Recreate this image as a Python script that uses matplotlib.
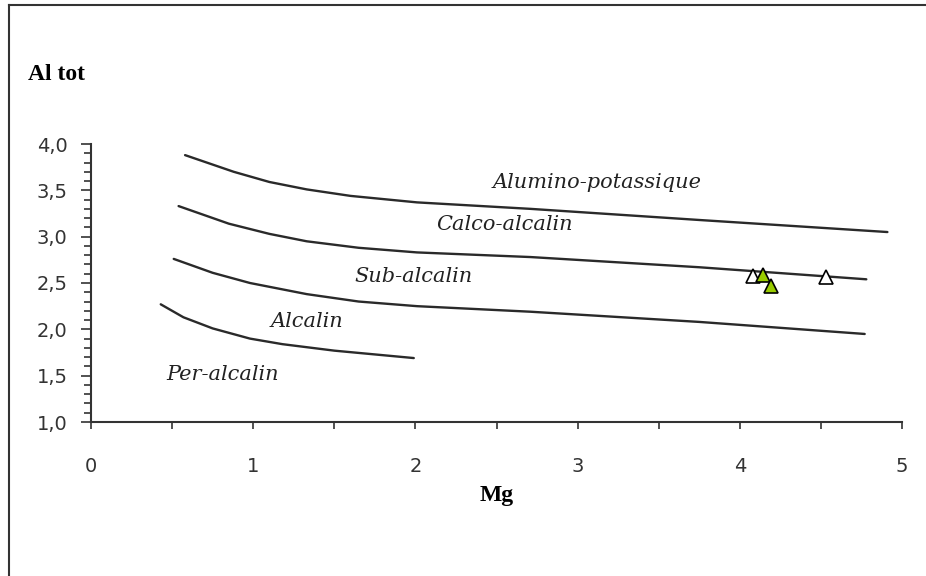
import matplotlib
matplotlib.use("Agg")
import matplotlib.pyplot as plt
from matplotlib.ticker import MultipleLocator, FuncFormatter
from matplotlib.lines import Line2D

# Boundary curves of the classification fields (Mg vs Al tot)
alumino_x = [0.58, 0.88, 1.10, 1.33, 1.60, 2.01, 2.71, 3.75, 4.91]
alumino_y = [3.88, 3.70, 3.59, 3.51, 3.44, 3.37, 3.30, 3.18, 3.05]

calco_x = [0.54, 0.85, 1.10, 1.33, 1.65, 2.01, 2.71, 3.75, 4.78]
calco_y = [3.33, 3.14, 3.03, 2.95, 2.88, 2.83, 2.78, 2.67, 2.54]

subalc_x = [0.51, 0.75, 0.98, 1.33, 1.65, 2.01, 2.71, 3.75, 4.77]
subalc_y = [2.76, 2.61, 2.50, 2.38, 2.30, 2.25, 2.19, 2.08, 1.95]

alcalin_x = [0.43, 0.57, 0.75, 0.98, 1.18, 1.50, 1.99]
alcalin_y = [2.27, 2.13, 2.01, 1.90, 1.84, 1.77, 1.69]

# Samples
open_x = [4.08, 4.53]
open_y = [2.575, 2.57]
filled_x = [4.14, 4.19]
filled_y = [2.59, 2.47]

# Field names and their positions
field_names = ["Alumino-potassique", "Calco-alcalin", "Sub-alcalin", "Alcalin", "Per-alcalin"]
field_x = [3.12, 2.55, 1.99, 1.33, 0.81]
field_y = [3.58, 3.13, 2.57, 2.08, 1.51]

x_ticks = [0, 1, 2, 3, 4, 5]
y_ticks = [1.0, 1.5, 2.0, 2.5, 3.0, 3.5, 4.0]

fig = plt.figure(figsize=(9.26, 5.76), dpi=100)
ax = fig.add_axes([91 / 926, 1 - 422 / 576, (902 - 91) / 926, (422 - 144) / 576])

for xs, ys in [(alumino_x, alumino_y), (calco_x, calco_y),
               (subalc_x, subalc_y), (alcalin_x, alcalin_y)]:
    ax.plot(xs, ys, color="#2a2a2a", lw=1.7, solid_capstyle="round",
            solid_joinstyle="round")

ax.plot(open_x, open_y, linestyle="none", marker="^", ms=10,
        mfc="white", mec="black", mew=1.2, zorder=3)
ax.plot(filled_x, filled_y, linestyle="none", marker="^", ms=10,
        mfc="#99CC00", mec="black", mew=1.2, zorder=4)

for name, tx, ty in zip(field_names, field_x, field_y):
    ax.text(tx, ty, name, ha="center", va="center", fontsize=15,
            family="DejaVu Serif", style="italic", color="#222222")

ax.set_xlim(0, 5)
ax.set_ylim(1, 4)
ax.set_xticks(x_ticks)
ax.set_yticks(y_ticks)
ax.xaxis.set_minor_locator(MultipleLocator(0.5))
ax.yaxis.set_minor_locator(MultipleLocator(0.1))
ax.yaxis.set_major_formatter(FuncFormatter(lambda v, p: f"{v:.1f}".replace(".", ",")))

for side in ["top", "right"]:
    ax.spines[side].set_visible(False)
for side in ["left", "bottom"]:
    ax.spines[side].set_color("#333333")
    ax.spines[side].set_linewidth(1.5)

ax.tick_params(axis="both", which="both", direction="out", color="#333333", width=1.2)
ax.tick_params(axis="y", which="major", length=7, pad=10)
ax.tick_params(axis="y", which="minor", length=5)
ax.tick_params(axis="x", which="both", length=5, pad=20)
for lab in ax.get_xticklabels() + ax.get_yticklabels():
    lab.set_fontsize(14)
    lab.set_color("#333333")
    lab.set_family("DejaVu Sans")

ax.set_xlabel("Mg", fontsize=17, family="Liberation Serif", weight="bold", labelpad=7)
fig.text(56 / 926, 1 - 75 / 576, "Al tot", ha="center", va="center", fontsize=17,
         family="Liberation Serif", weight="bold")

# Frame lines along the top and left edges of the figure
fig.add_artist(Line2D([9 / 926, 1], [1 - 5 / 576, 1 - 5 / 576], transform=fig.transFigure,
                      color="#333333", lw=1.5))
fig.add_artist(Line2D([9 / 926, 9 / 926], [0, 1 - 5 / 576], transform=fig.transFigure,
                      color="#333333", lw=1.5))

fig.savefig("out.png", dpi=100)
